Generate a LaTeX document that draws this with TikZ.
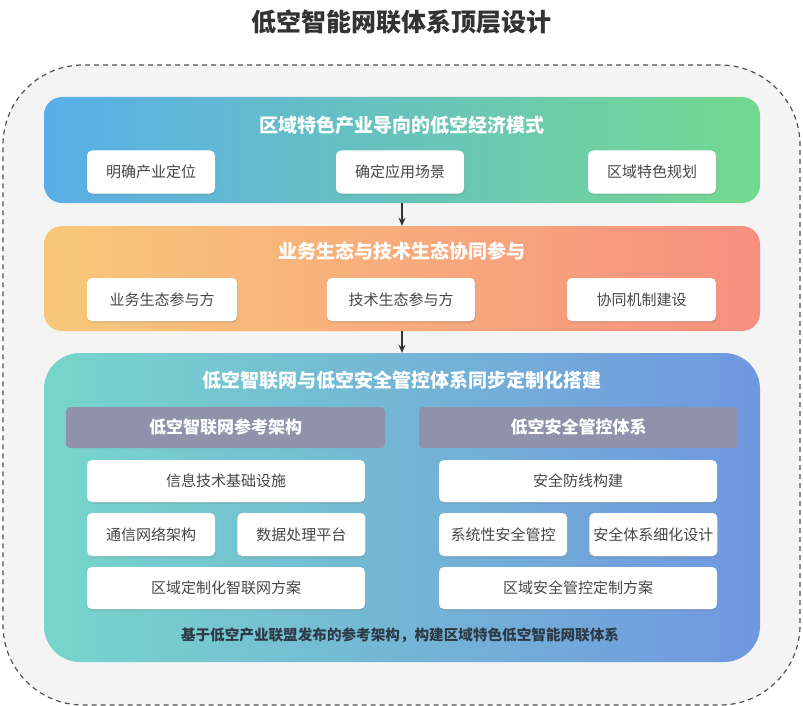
\documentclass[tikz,border=0pt]{standalone}
\usepackage{fontspec}
\setmainfont{Noto Sans CJK SC}
\usetikzlibrary{positioning}
\usetikzlibrary{shadows}
\usetikzlibrary{arrows.meta}
\definecolor{ecoleft}{HTML}{5AAEE9}
\definecolor{ecoright}{HTML}{74D98F}
\definecolor{coopleft}{HTML}{F8C879}
\definecolor{coopright}{HTML}{F78F7F}
\definecolor{netleft}{HTML}{77D5CB}
\definecolor{netright}{HTML}{7097E0}
\definecolor{headgray}{HTML}{8F92AA}
\definecolor{framegray}{HTML}{F4F4F4}
\definecolor{textdark}{HTML}{333333}
\definecolor{notedark}{HTML}{2E3A46}
\tikzset{x=1pt, y=-1pt, % One unit is one pixel of the picture
frame/.style={ % Dashed outer frame
draw=textdark!85, fill=framegray, line width=1.2pt,
dash pattern=on 5pt off 4pt, rounded corners=80pt},
panel/.style={ % Coloured layer with a gradient
rounded corners=18pt, minimum width=716pt, inner sep=0pt},
paneltitle/.style={text=white, font=\bfseries\fontsize{19}{22}\selectfont},
item/.style={ % White box inside a layer
fill=white, rounded corners=5pt, inner sep=2pt,
minimum height=43pt, text=textdark!90,
font=\fontsize{15}{18}\selectfont,
drop shadow={shadow xshift=1pt, shadow yshift=-2pt, opacity=0.22}},
header/.style={ % Grey head of a column
fill=headgray, rounded corners=4pt, minimum width=319pt,
minimum height=41pt, text=white,
font=\bfseries\fontsize{17}{20}\selectfont},
flow/.style={-{Stealth[length=8pt,width=7pt]}, line width=1.4pt, draw=textdark}}
\begin{document}
\begin{tikzpicture}
  \useasboundingbox (0,0) rectangle (803,706);
  \node[font=\bfseries\fontsize{25}{28}\selectfont, text=textdark] (title) at (401,22) {低空智能网联体系顶层设计};
  \node[frame, minimum width=797pt, minimum height=640pt] (frame) at (401.5,385) {};
  % first layer
  \node[panel, left color=ecoleft, right color=ecoright, minimum height=106pt] (eco) at (402,150) {};
  \node[paneltitle] (ecotitle) at (402,125) {区域特色产业导向的低空经济模式};
  \node[item, minimum width=128pt] (eco1) at (151,172) {明确产业定位};
  \node[item, minimum width=128pt] (eco2) at (400,172) {确定应用场景};
  \node[item, minimum width=128pt] (eco3) at (652,172) {区域特色规划};
  % second layer
  \node[panel, left color=coopleft, right color=coopright, minimum height=105pt] (coop) at (402,278.5) {};
  \node[paneltitle] (cooptitle) at (402,251) {业务生态与技术生态协同参与};
  \node[item, minimum width=150pt] (coop1) at (162,299.5) {业务生态参与方};
  \node[item, minimum width=148pt] (coop2) at (401,299.5) {技术生态参与方};
  \node[item, minimum width=149pt] (coop3) at (641.5,299.5) {协同机制建设};
  % third layer
  \node[panel, left color=netleft, right color=netright, minimum height=309pt, rounded corners=36pt] (net) at (402,507.5) {};
  \node[paneltitle] (nettitle) at (402,380) {低空智联网与低空安全管控体系同步定制化搭建};
  \node[header] (arch) at (225.5,427.5) {低空智联网参考架构};
  \node[header] (safe) at (578.5,427.5) {低空安全管控体系};
  \node[item, minimum width=278pt, minimum height=42pt] (arch1) at (226,481) {信息技术基础设施};
  \node[item, minimum width=128pt] (arch2) at (151,534.5) {通信网络架构};
  \node[item, minimum width=128pt, right=22pt of arch2] (arch3) {数据处理平台};
  \node[item, minimum width=278pt, minimum height=42pt] (arch4) at (226,588) {区域定制化智联网方案};
  \node[item, minimum width=278pt, minimum height=42pt] (safe1) at (578,481) {安全防线构建};
  \node[item, minimum width=128pt] (safe2) at (503,534.5) {系统性安全管控};
  \node[item, minimum width=128pt, right=22pt of safe2] (safe3) {安全体系细化设计};
  \node[item, minimum width=278pt, minimum height=42pt] (safe4) at (578,588) {区域安全管控定制方案};
  \node[font=\bfseries\fontsize{14.6}{17}\selectfont, text=notedark] (note) at (400,635) {基于低空产业联盟发布的参考架构，构建区域特色低空智能网联体系};
  \draw[flow] (eco.south) -- (coop.north);
  \draw[flow] (coop.south) -- (net.north);
\end{tikzpicture}
\end{document}
